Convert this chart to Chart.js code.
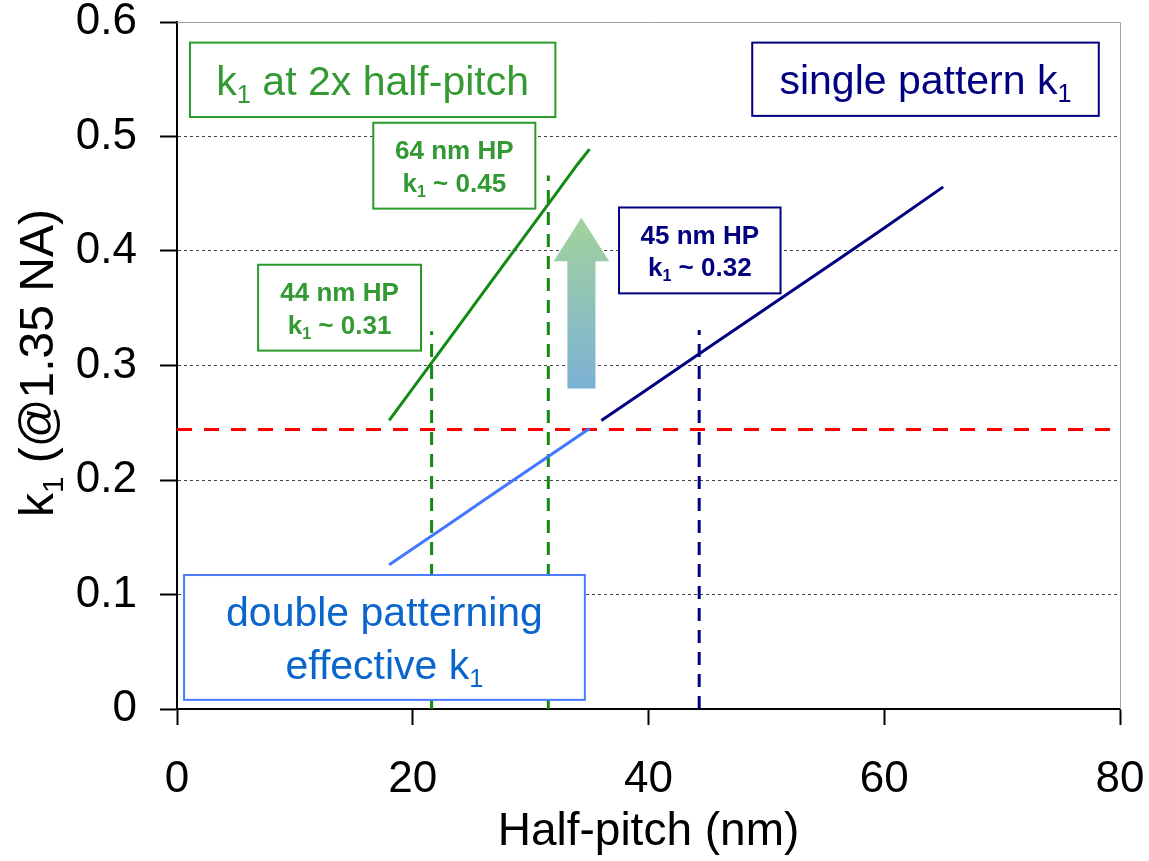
<!DOCTYPE html>
<html>
<head>
<meta charset="utf-8">
<script src="https://cdn.jsdelivr.net/npm/chart.js@4.4.0/dist/chart.umd.min.js"></script>
<style>
  html, body { margin: 0; padding: 0; background: #fff; }
  canvas { display: block; }
</style>
</head>
<body>
<canvas id="grafico" width="1149" height="861"></canvas>
<script>
// valores
const hpDouble2x = [18, 20, 22, 24, 26, 28, 30, 32, 34, 35];
const k1Double2x = [0.252, 0.280, 0.308, 0.336, 0.364, 0.392, 0.420, 0.448, 0.476, 0.489];

const hpDoubleEff = [18, 20, 22, 24, 26, 28, 30, 32, 34, 35];
const k1DoubleEff = [0.126, 0.140, 0.154, 0.168, 0.182, 0.196, 0.210, 0.224, 0.238, 0.245];

const hpSingle = [36, 40, 44, 48, 52, 56, 60, 65];
const k1Single = [0.252, 0.280, 0.308, 0.336, 0.364, 0.392, 0.420, 0.456];

const markerHp = [21.6, 31.5, 44.3];
const markerTop = [0.330, 0.466, 0.331];
const k1Limit = 0.244;

const xTicks = [0, 20, 40, 60, 80];
const yTicks = [0, 0.1, 0.2, 0.3, 0.4, 0.5, 0.6];

const FONT = '"Liberation Sans", Arial, Helvetica, sans-serif';
const GREEN = '#138a13';
const GREEN_TXT = '#339933';
const NAVY = '#000080';
const BLUE = '#4477ff';
const BLUE_TXT = '#0a66cc';

function pts(xs, ys) {
    return xs.map((x, i) => ({ x: x, y: ys[i] }));
}

// caixas de texto (posição em unidades dos eixos)
const caixas = [
    { x0: 1.1, x1: 32.1, y0: 0.517, y1: 0.582, border: '#2a9a2a', color: GREEN_TXT, size: 41, bold: false, gap: 0,
      lines: [['k', '_1', ' at 2x half-pitch']] },
    { x0: 48.8, x1: 78.2, y0: 0.518, y1: 0.582, border: NAVY, color: NAVY, size: 41, bold: false, gap: 0,
      lines: [['single pattern k', '_1']] },
    { x0: 16.65, x1: 30.4, y0: 0.437, y1: 0.512, border: '#2a9a2a', color: GREEN_TXT, size: 26, bold: true, gap: 33,
      lines: [['64 nm HP'], ['k', '_1', ' ~ 0.45']] },
    { x0: 6.88, x1: 20.7, y0: 0.313, y1: 0.388, border: '#2a9a2a', color: GREEN_TXT, size: 26, bold: true, gap: 33,
      lines: [['44 nm HP'], ['k', '_1', ' ~ 0.31']] },
    { x0: 37.5, x1: 51.2, y0: 0.363, y1: 0.438, border: NAVY, color: NAVY, size: 26, bold: true, gap: 32,
      lines: [['45 nm HP'], ['k', '_1', ' ~ 0.32']] },
    { x0: 0.6, x1: 34.6, y0: 0.008, y1: 0.117, border: '#4a7aff', color: BLUE_TXT, size: 41, bold: false, gap: 53,
      lines: [['double patterning'], ['effective k', '_1']] }
];

const seta = { x: 34.31, shaft: 1.19, head: 2.36, tip: 0.429, base: 0.391, bottom: 0.280 };

function fonte(size, bold) {
    return (bold ? 'bold ' : '') + size + 'px ' + FONT;
}

function drawRich(ctx, parts, cx, by, size, bold, color) {
    let w = 0;
    parts.forEach(p => {
        const sub = p[0] === '_';
        ctx.font = fonte(sub ? size * 0.62 : size, bold);
        w += ctx.measureText(sub ? p.slice(1) : p).width;
    });
    let x = cx - w / 2;
    ctx.fillStyle = color;
    ctx.textAlign = 'left';
    ctx.textBaseline = 'alphabetic';
    parts.forEach(p => {
        const sub = p[0] === '_';
        const t = sub ? p.slice(1) : p;
        ctx.font = fonte(sub ? size * 0.62 : size, bold);
        ctx.fillText(t, x, by + (sub ? size * 0.2 : 0));
        x += ctx.measureText(t).width;
    });
}

const extras = {
    id: 'extras',
    afterDatasetsDraw(chart) {
        const ctx = chart.ctx;
        const xs = chart.scales.x, ys = chart.scales.y;
        const area = chart.chartArea;
        ctx.save();

        // borda superior e direita
        ctx.strokeStyle = '#a0a0a0';
        ctx.lineWidth = 1;
        ctx.beginPath();
        ctx.moveTo(area.left, area.top + 0.5);
        ctx.lineTo(area.right + 0.5, area.top + 0.5);
        ctx.lineTo(area.right + 0.5, area.bottom);
        ctx.stroke();

        // seta com gradiente
        const cx = xs.getPixelForValue(seta.x);
        const sw = xs.getPixelForValue(seta.x + seta.shaft) - cx;
        const hw = xs.getPixelForValue(seta.x + seta.head) - cx;
        const yTip = ys.getPixelForValue(seta.tip);
        const yBase = ys.getPixelForValue(seta.base);
        const yBot = ys.getPixelForValue(seta.bottom);
        const grad = ctx.createLinearGradient(0, yTip, 0, yBot);
        grad.addColorStop(0, '#a2d39b');
        grad.addColorStop(1, '#7cb1d6');
        ctx.fillStyle = grad;
        ctx.beginPath();
        ctx.moveTo(cx, yTip);
        ctx.lineTo(cx + hw, yBase);
        ctx.lineTo(cx + sw, yBase);
        ctx.lineTo(cx + sw, yBot);
        ctx.lineTo(cx - sw, yBot);
        ctx.lineTo(cx - sw, yBase);
        ctx.lineTo(cx - hw, yBase);
        ctx.closePath();
        ctx.fill();

        // caixas
        caixas.forEach(c => {
            const l = xs.getPixelForValue(c.x0), r = xs.getPixelForValue(c.x1);
            const t = ys.getPixelForValue(c.y1), b = ys.getPixelForValue(c.y0);
            ctx.fillStyle = '#ffffff';
            ctx.fillRect(l, t, r - l, b - t);
            ctx.strokeStyle = c.border;
            ctx.lineWidth = 2;
            ctx.strokeRect(l, t, r - l, b - t);
            const mx = (l + r) / 2, my = (t + b) / 2;
            const n = c.lines.length;
            c.lines.forEach((ln, i) => {
                const by = my + (i - (n - 1) / 2) * c.gap + c.size * 0.36;
                drawRich(ctx, ln, mx, by, c.size, c.bold, c.color);
            });
        });

        // títulos dos eixos
        ctx.fillStyle = '#000';
        ctx.font = fonte(46, false);
        ctx.textAlign = 'center';
        ctx.textBaseline = 'alphabetic';
        ctx.fillText('Half-pitch (nm)', (area.left + area.right) / 2, 845);

        ctx.translate(53, 363);
        ctx.rotate(-Math.PI / 2);
        drawRich(ctx, ['k', '_1', ' (@1.35 NA)'], 0, 0, 48, false, '#000');
        ctx.restore();
    }
};

const datasets = [
    { data: pts(hpDouble2x, k1Double2x), borderColor: GREEN, borderWidth: 3 },
    { data: pts(hpDoubleEff, k1DoubleEff), borderColor: BLUE, borderWidth: 3 },
    { data: pts(hpSingle, k1Single), borderColor: NAVY, borderWidth: 3 },
    { data: [{ x: markerHp[0], y: 0 }, { x: markerHp[0], y: markerTop[0] }], borderColor: GREEN, borderWidth: 3, borderDash: [13, 9] },
    { data: [{ x: markerHp[1], y: 0 }, { x: markerHp[1], y: markerTop[1] }], borderColor: GREEN, borderWidth: 3, borderDash: [13, 9] },
    { data: [{ x: markerHp[2], y: 0 }, { x: markerHp[2], y: markerTop[2] }], borderColor: NAVY, borderWidth: 3, borderDash: [13, 9] },
    { data: [{ x: xTicks[0], y: k1Limit }, { x: xTicks[xTicks.length - 1], y: k1Limit }], borderColor: '#ff0000', borderWidth: 3, borderDash: [15, 12] }
];
datasets.forEach(d => { d.showLine = true; d.pointRadius = 0; d.fill = false; d.tension = 0; });

new Chart(document.getElementById('grafico'), {
    type: 'scatter',
    data: { datasets: datasets },
    options: {
        responsive: false,
        animation: false,
        devicePixelRatio: 1,
        layout: { padding: { top: 22, right: 29, left: 0, bottom: 0 } },
        plugins: { legend: { display: false }, tooltip: { enabled: false } },
        scales: {
            x: {
                type: 'linear',
                min: xTicks[0],
                max: xTicks[xTicks.length - 1],
                afterFit: s => { s.height = 152; s.paddingLeft = 0; s.paddingRight = 0; },
                afterBuildTicks: s => { s.ticks = xTicks.map(v => ({ value: v })); },
                ticks: { font: { size: 44, family: FONT }, color: '#000', padding: 28 },
                grid: { drawOnChartArea: false, drawTicks: true, tickLength: 16, tickColor: '#000', tickWidth: 2 },
                border: { color: '#000', width: 2 }
            },
            y: {
                type: 'linear',
                min: yTicks[0],
                max: yTicks[yTicks.length - 1],
                afterFit: s => { s.width = 177; s.paddingTop = 0; s.paddingBottom = 0; },
                afterBuildTicks: s => { s.ticks = yTicks.map(v => ({ value: v })); },
                ticks: {
                    font: { size: 44, family: FONT }, color: '#000', padding: 23,
                    callback: v => v === 0 ? '0' : v.toFixed(1)
                },
                grid: {
                    color: c => (c.tick && (c.tick.value === 0 || c.tick.value === 0.6)) ? 'rgba(0,0,0,0)' : '#444',
                    lineWidth: 1,
                    tickLength: 17, tickColor: '#000', tickWidth: 2, tickBorderDash: []
                },
                border: { color: '#000', width: 2, dash: [3, 3] }
            }
        }
    },
    plugins: [extras]
});
</script>
</body>
</html>
